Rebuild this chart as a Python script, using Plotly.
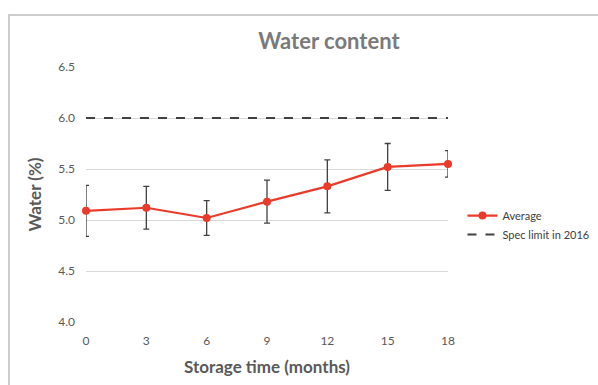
import plotly.graph_objects as go

# Storage stability data: water content over time
months = [0, 3, 6, 9, 12, 15, 18]
water_avg = [5.09, 5.12, 5.02, 5.18, 5.33, 5.52, 5.55]
water_err = [0.25, 0.21, 0.17, 0.21, 0.26, 0.23, 0.13]
spec_months = [0, 18]
spec_limit = [6.0, 6.0]
y_ticks = [4.0, 4.5, 5.0, 5.5, 6.0, 6.5]
x_ticks = [0, 3, 6, 9, 12, 15, 18]

FONT = "Lato, 'Open Sans', sans-serif"
TEXT = "#595959"

fig = go.Figure()

fig.add_trace(go.Scatter(
    x=spec_months, y=spec_limit, mode="lines", name="Spec limit in 2016",
    line=dict(color="#404040", width=2, dash="dash"),
    cliponaxis=False,
))

fig.add_trace(go.Scatter(
    x=months, y=water_avg, mode="lines+markers", name="Average",
    line=dict(color="#ea3a2a", width=2.2),
    marker=dict(color="#ea3a2a", size=8),
    error_y=dict(type="data", array=water_err, visible=True,
                 color="#404040", thickness=1.3, width=3),
    cliponaxis=False,
))

# Outer chart frame
fig.add_shape(type="rect", xref="paper", yref="paper",
              x0=-0.2127, x1=1.45, y0=-0.3, y1=1.204,
              line=dict(color="#bdbdbd", width=1.5), fillcolor="rgba(0,0,0,0)",
              layer="below")

fig.update_layout(
    width=598, height=385,
    margin=dict(l=86, r=150, t=67, b=63, autoexpand=False),
    paper_bgcolor="white", plot_bgcolor="white",
    font=dict(family=FONT, color=TEXT, size=12),
    title=dict(text="<b>Water content</b>", x=(329 - 86) / 362, xref="paper",
               xanchor="center", y=1 - 41 / 385, yanchor="middle",
               font=dict(size=22, color="#7a7a7a", family=FONT)),
    xaxis=dict(range=[0, 18], tickvals=x_ticks, showgrid=False, zeroline=False,
               showline=False, ticks="", ticklabelstandoff=10,
               tickfont=dict(size=12, color=TEXT),
               title=dict(text="<b>Storage time (months)</b>", standoff=14,
                          font=dict(size=17, color=TEXT))),
    yaxis=dict(range=[4.0, 6.5], tickvals=y_ticks, tickformat=".1f",
               showgrid=True, gridcolor="#d9d9d9", gridwidth=1, zeroline=False,
               showline=False, ticks="", ticklabelstandoff=10,
               tickfont=dict(size=12, color=TEXT),
               title=dict(text="<b>Water (%)</b>", standoff=12,
                          font=dict(size=17, color=TEXT))),
    legend=dict(x=1.04, y=0.38, xanchor="left", yanchor="middle",
                traceorder="reversed", font=dict(size=11, color="#404040"),
                bgcolor="rgba(0,0,0,0)", itemwidth=30, tracegroupgap=10),
    showlegend=True,
)

fig.write_html("out.html")
